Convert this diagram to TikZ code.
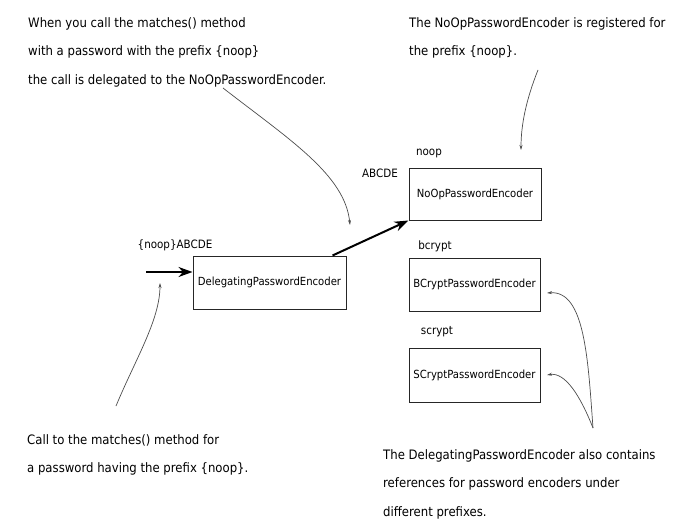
\documentclass[tikz,border=0pt]{standalone}
\usepackage{fontspec}
\setmainfont{DejaVu Sans Condensed}
\usetikzlibrary{arrows.meta}

\tikzset{
    encoder/.style={
        draw=black!85,
        line width=1pt,
        minimum width=131pt,
        minimum height=53pt,
        font=\fontsize{11.2}{14}\selectfont},
    keylabel/.style={
        inner sep=0pt,
        font=\fontsize{11.5}{14}\selectfont},
    note/.style={
        align=left,
        anchor=north west,
        inner sep=0pt,
        font=\fontsize{13}{28.5}\selectfont},
    hint/.style={
        draw=black!70,
        line width=0.7pt,
        -{Stealth[length=5pt,width=3pt]}},
    call/.style={
        line width=2pt,
        -{Stealth[length=14pt,width=10pt]}}
}

\begin{document}
\begin{tikzpicture}[x=1pt, y=-1pt]
    \useasboundingbox (0,0) rectangle (691,527);

    % encoders
    \node[encoder, minimum width=153pt] (deleg) at (269.5,282.5) {DelegatingPasswordEncoder};
    \node[encoder, minimum width=132pt, minimum height=52pt] (noop) at (475,194) {NoOpPasswordEncoder};
    \node[encoder] (bcrypt) at (474.5,284.5) {BCryptPasswordEncoder};
    \node[encoder, minimum height=54pt] (scrypt) at (474.5,375) {SCryptPasswordEncoder};

    % prefixes and passwords
    \node[keylabel] (noopkey) at (429,153) {noop};
    \node[keylabel] (bcryptkey) at (435,246) {bcrypt};
    \node[keylabel] (scryptkey) at (437,332) {scrypt};
    \node[keylabel] (raw) at (380,173) {ABCDE};
    \node[keylabel] (encoded) at (175,245) {\{noop\}ABCDE};

    % calls
    \coordinate (caller) at (146,272);
    \draw[call] (caller) -- (caller -| deleg.west);
    \draw[call] (deleg.north east) ++(-14,0) -- (noop.south west);

    % notes
    \node[note] (delegnote) at (28,17) {When you call the matches() method\\
        with a password with the prefix \{noop\}\\
        the call is delegated to the NoOpPasswordEncoder.};
    \node[note] (noopnote) at (409,17) {The NoOpPasswordEncoder is registered for\\
        the prefix \{noop\}.};
    \node[note] (callnote) at (27,434) {Call to the matches() method for\\
        a password having the prefix \{noop\}.};
    \node[note] (refsnote) at (383,449) {The DelegatingPasswordEncoder also contains\\
        references for password encoders under\\
        different prefixes.};

    \coordinate (delegfrom) at (223,88);
    \coordinate (delegto) at (350,225);
    \coordinate (noopfrom) at (538,70);
    \coordinate (noopto) at (521,150);
    \coordinate (callfrom) at (116,406);
    \coordinate (callto) at (160,283);
    \coordinate (refsfrom) at (593,428);
    \coordinate (bcryptto) at (547,293);
    \coordinate (scryptto) at (547,375);

    \draw[hint] (delegfrom) .. controls (290,140) and (345,175) .. (delegto);
    \draw[hint] (noopfrom) .. controls (526,100) and (521,125) .. (noopto);
    \draw[hint] (callfrom) .. controls (135,360) and (160,320) .. (callto);
    \draw[hint] (refsfrom) .. controls (588,360) and (585,290) .. (bcryptto);
    \draw[hint] (refsfrom) .. controls (580,395) and (565,372) .. (scryptto);
\end{tikzpicture}
\end{document}
